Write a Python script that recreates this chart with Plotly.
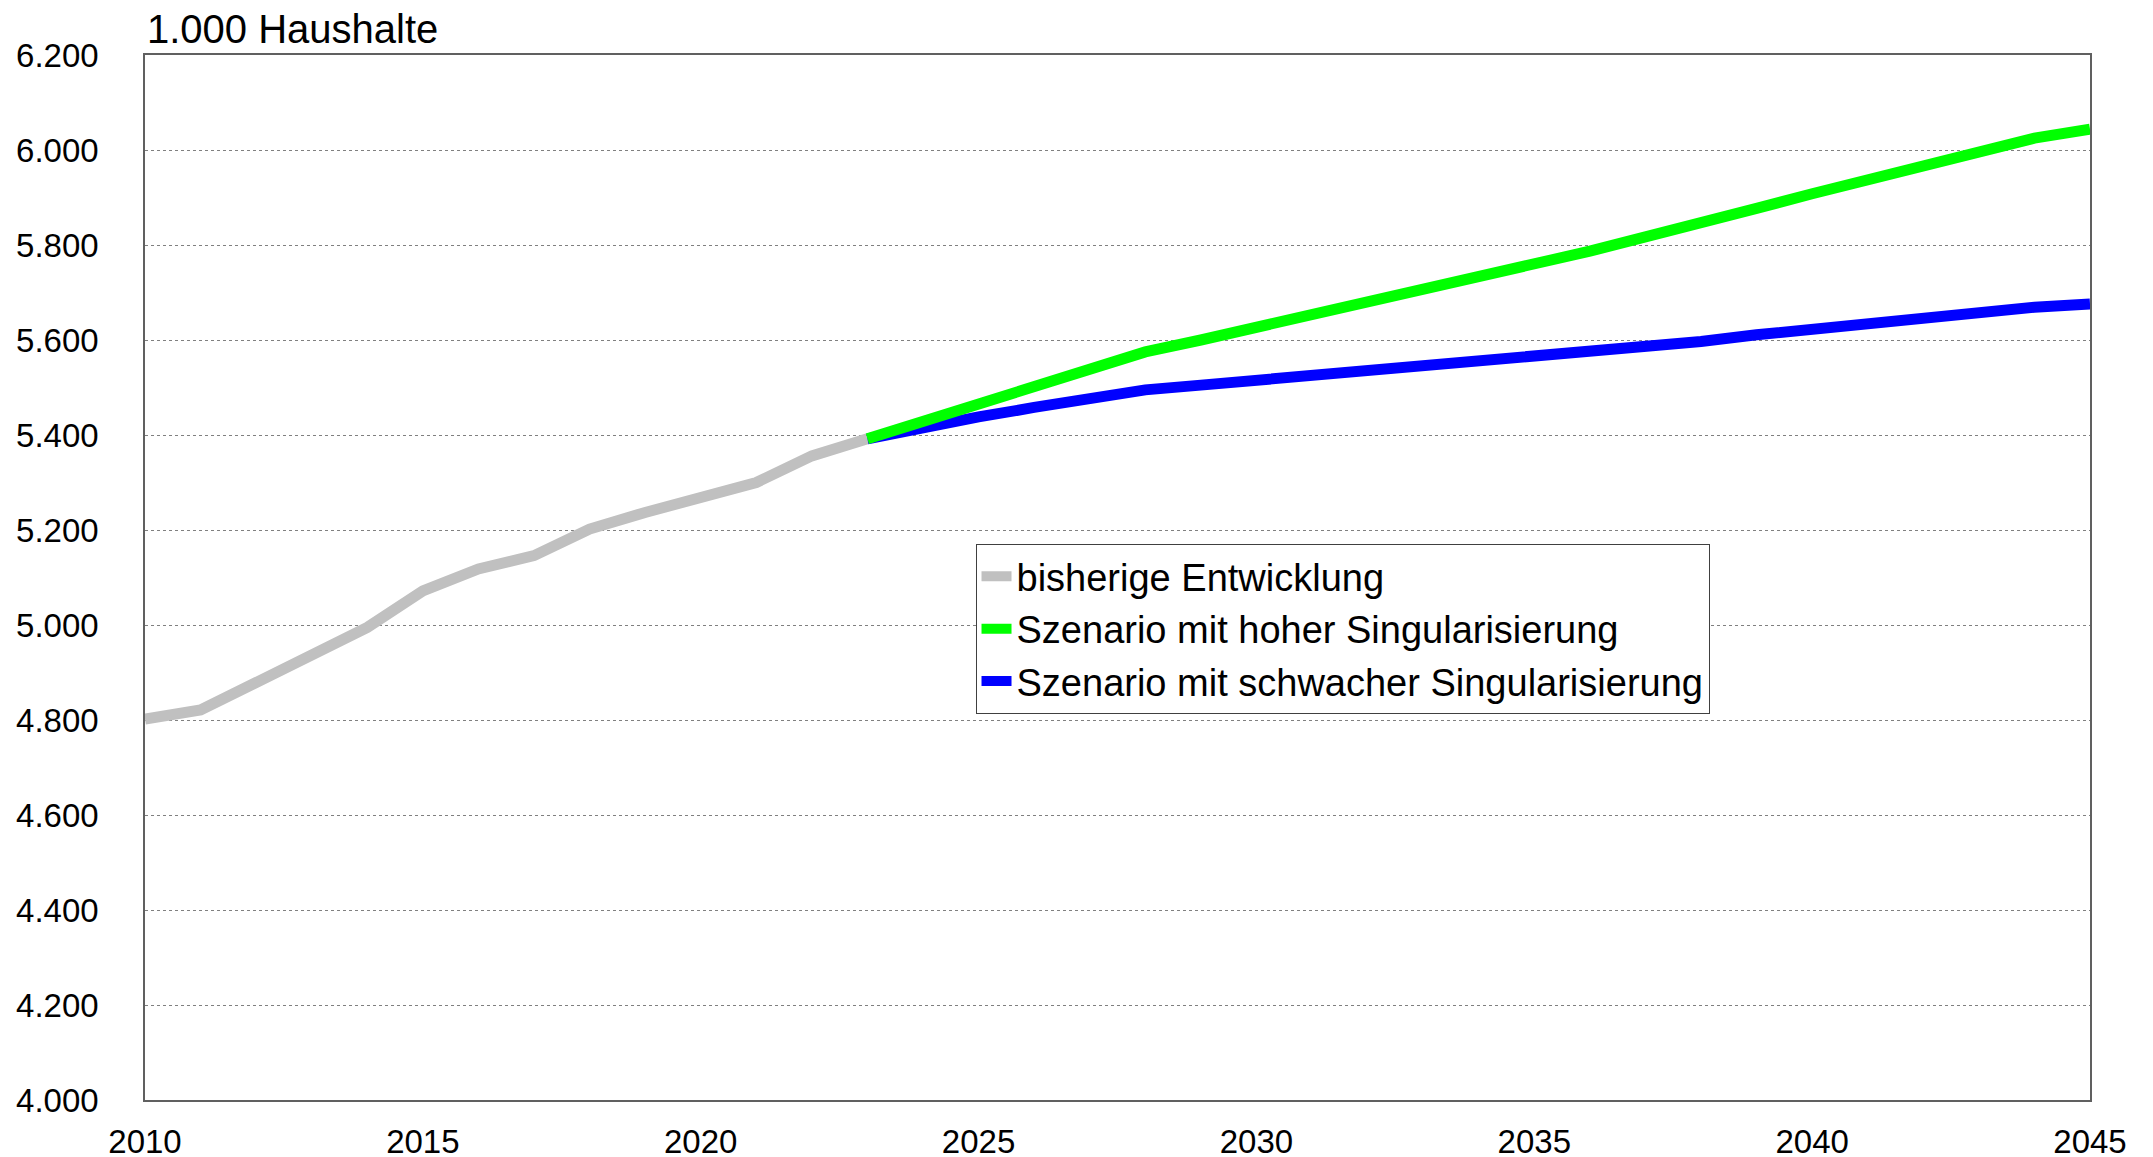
import plotly.graph_objects as go

years_hist = list(range(2010, 2024))
hist = [4802, 4821, 4879, 4939, 4995, 5072, 5118, 5146, 5202, 5237, 5269, 5300, 5356, 5392]

years_proj = list(range(2023, 2046))
high = [5392, 5429, 5466, 5503, 5539, 5575, 5600, 5626, 5653, 5680, 5707, 5734,
        5761, 5787, 5817, 5845, 5877, 5908, 5938, 5967, 5995, 6025, 6044]
low = [5392, 5417, 5438, 5458, 5477, 5495, 5505, 5515, 5526, 5536, 5546, 5556,
       5563, 5573, 5585, 5597, 5611, 5623, 5636, 5646, 5657, 5669, 5676]

y_ticks = list(range(4000, 6201, 200))
y_labels = [f"{v // 1000}.{v % 1000:03d}" for v in y_ticks]
x_ticks = list(range(2010, 2046, 5))

font = "Liberation Sans, Arial, sans-serif"

fig = go.Figure()
fig.add_trace(go.Scatter(
    x=years_hist, y=hist, mode="lines", name="bisherige Entwicklung",
    line=dict(color="#C0C0C0", width=11), legendrank=1,
))
fig.add_trace(go.Scatter(
    x=years_proj, y=low, mode="lines", name="Szenario mit schwacher Singularisierung",
    line=dict(color="#0000FF", width=11), legendrank=3,
))
fig.add_trace(go.Scatter(
    x=years_proj, y=high, mode="lines", name="Szenario mit hoher Singularisierung",
    line=dict(color="#00FF00", width=11), legendrank=2,
))

# page body adds 8px offset, margins compensate
fig.update_layout(
    width=2153, height=1157,
    margin=dict(l=137, r=71, t=47, b=65),
    plot_bgcolor="white", paper_bgcolor="white",
    font=dict(family=font, color="black", size=33),
    legend=dict(
        x=0.427, y=0.532, xanchor="left", yanchor="top",
        bordercolor="#404040", borderwidth=1, bgcolor="white",
        font=dict(size=38), itemwidth=30,
    ),
    annotations=[dict(
        text="1.000 Haushalte", xref="paper", yref="paper", x=0, y=1,
        xanchor="left", yanchor="bottom", showarrow=False, yshift=2,
        font=dict(size=40),
    )],
)

fig.update_xaxes(
    range=[2010, 2045], tickvals=x_ticks, ticks="", showgrid=False,
    showline=True, linecolor="#606060", linewidth=1.5, mirror=True,
    ticklabelstandoff=12, zeroline=False, automargin=False,
)
fig.update_yaxes(
    range=[4000, 6200], tickvals=y_ticks, ticktext=y_labels, ticks="",
    showgrid=True, gridcolor="#808080", gridwidth=1, griddash="dot",
    showline=True, linecolor="#606060", linewidth=1.5, mirror=True,
    ticklabelstandoff=38, zeroline=False, automargin=False,
)

fig.write_html("out.html")
